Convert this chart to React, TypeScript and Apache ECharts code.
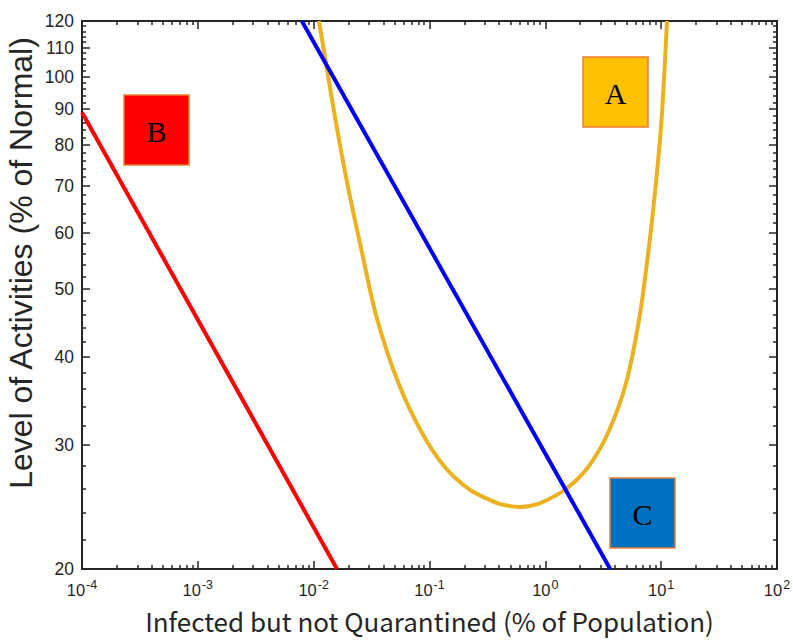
import React, { useEffect, useRef } from "react";
import * as echarts from "echarts";

// ---- data (log-log plot) ----
const redX = [1e-4, 0.0159];
const redY = [89, 20];

const blueX = [0.0079, 3.63];
const blueY = [120, 20];

const yellowX = [0.0111, 0.01265, 0.01544, 0.01979, 0.02588, 0.03487, 0.054, 0.0862, 0.1361, 0.2237, 0.333, 0.4063, 0.5925, 0.7374, 0.955, 1.508, 2.336, 3.476, 4.973, 6.504, 7.778, 8.936, 10.07, 11.23];
const yellowY = [120, 105.6, 86.8, 69.7, 56.7, 45.6, 36.7, 31.2, 27.9, 25.9, 25.06, 24.73, 24.5, 24.57, 24.9, 25.98, 27.9, 31.2, 36.7, 45.6, 56.7, 69.7, 86.8, 120];

const xDecades = [-4, -3, -2, -1, 0, 1, 2];
const yTickLabels = [20, 30, 40, 50, 60, 70, 80, 90, 100, 110, 120];
const yMinorValues = [22, 24, 26, 28, 32, 34, 36, 38, 42, 44, 46, 48, 52, 54, 56, 58, 62, 64, 66, 68, 72, 74, 76, 78, 82, 84, 86, 88, 92, 94, 96, 98, 102, 104, 106, 108, 112, 114, 116, 118];
const xMinorMultipliers = [2, 3, 4, 5, 6, 7, 8, 9];

const annotations = [
  { label: "A", fill: "#FFC000" },
  { label: "B", fill: "#FF0000" },
  { label: "C", fill: "#0070C0" },
];

const lg = (v: number) => Math.log10(v);
const pairs = (xs: number[], ys: number[]) => xs.map((x, i) => [lg(x), lg(ys[i])]);

const AX = "#262626";

export default function App() {
  const ref = useRef<HTMLDivElement>(null);
  useEffect(() => {
    if (!ref.current) return;
    const chart = echarts.init(ref.current, undefined, { renderer: "svg" });

    const xMin = xDecades[0];
    const xMax = xDecades[xDecades.length - 1];
    const yMin = lg(yTickLabels[0]);
    const yMax = lg(yTickLabels[yTickLabels.length - 1]);
    const xMinor: number[] = [];
    for (let d = xMin; d < xMax; d++) {
      xMinorMultipliers.forEach((m) => xMinor.push(lg(m * Math.pow(10, d))));
    }
    const yMajor = yTickLabels.map(lg);
    const yMinor = yMinorValues.map(lg);

    const baseX = (pos: "bottom" | "top", ticks: number[], len: number, showLine: boolean, labels: boolean) => ({
      type: "value",
      position: pos,
      min: xMin,
      max: xMax,
      splitLine: { show: false },
      axisLine: { show: showLine, onZero: false, lineStyle: { color: AX, width: 2 } },
      axisTick: { show: true, inside: true, length: len, customValues: ticks, lineStyle: { color: AX, width: 1.5 } },
      axisLabel: labels
        ? {
            show: true,
            customValues: xDecades,
            margin: 9,
            hideOverlap: false,
            formatter: (v: number) => `{b|10}{s|${Math.round(v)}}`,
            rich: {
              b: { fontSize: 16.5, fontFamily: "Liberation Sans", color: AX, verticalAlign: "bottom" },
              s: { fontSize: 12.5, fontFamily: "Liberation Sans", color: AX, verticalAlign: "bottom", padding: [0, 0, 7, 1] },
            },
          }
        : { show: false },
    });

    const baseY = (pos: "left" | "right", ticks: number[], len: number, showLine: boolean, labels: boolean) => ({
      type: "value",
      position: pos,
      min: yMin,
      max: yMax,
      splitLine: { show: false },
      axisLine: { show: showLine, onZero: false, lineStyle: { color: AX, width: 2 } },
      axisTick: { show: true, inside: true, length: len, customValues: ticks, lineStyle: { color: AX, width: 1.5 } },
      axisLabel: labels
        ? {
            show: true,
            customValues: yMajor,
            margin: 8,
            fontSize: 17.5,
            fontFamily: "Liberation Sans",
            color: AX,
            formatter: (v: number) => String(Math.round(Math.pow(10, v))),
          }
        : { show: false },
    });

    const xAxes: any[] = [
      {
        ...baseX("bottom", xDecades, 8, true, true),
        name: "Infected but not Quarantined (% of Population)",
        nameLocation: "middle",
        nameGap: 37,
        nameMoveOverlap: false,
        nameTextStyle: { fontSize: 26, lineHeight: 28, fontFamily: "Noto Sans CJK JP", color: AX },
      },
      baseX("bottom", xMinor, 4, false, false),
      baseX("top", xDecades, 8, true, false),
      baseX("top", xMinor, 4, false, false),
    ];
    const yAxes: any[] = [
      {
        ...baseY("left", yMajor, 8, true, true),
        name: "Level of Activities (% of Normal)",
        nameLocation: "middle",
        nameGap: 45,
        nameMoveOverlap: false,
        nameTextStyle: { fontSize: 32, fontFamily: "Liberation Sans", color: AX, padding: [0, 0, 0, 64] },
      },
      baseY("left", yMinor, 4, false, false),
      baseY("right", yMajor, 8, true, false),
      baseY("right", yMinor, 4, false, false),
    ];

    const boxPos = [
      { x: 583, y: 57 },
      { x: 124, y: 95 },
      { x: 610, y: 478 },
    ];
    const boxW = 65;
    const boxH = 70;

    const graphics: any[] = [];
    annotations.forEach((a, i) => {
      graphics.push({
        type: "rect",
        x: boxPos[i].x,
        y: boxPos[i].y,
        shape: { width: boxW, height: boxH },
        style: { fill: a.fill, stroke: "#ED7D31", lineWidth: 1.5 },
        z: 10,
      });
      graphics.push({
        type: "text",
        x: boxPos[i].x + boxW / 2,
        y: boxPos[i].y + boxH / 2 + 1,
        style: {
          text: a.label,
          fontSize: 30,
          fontFamily: "Liberation Serif",
          fill: "#000",
          textAlign: "center",
          textVerticalAlign: "middle",
        },
        z: 11,
      });
    });

    chart.setOption({
      animation: false,
      backgroundColor: "#ffffff",
      grid: { left: 82, right: 16, top: 21, bottom: 71, containLabel: false, outerBoundsMode: "none" },
      xAxis: xAxes,
      yAxis: yAxes,
      series: [
        {
          name: "A",
          type: "line",
          data: pairs(yellowX, yellowY),
          showSymbol: false,
          smooth: 0.3,
          lineStyle: { color: "#EDB120", width: 4 },
          itemStyle: { color: "#EDB120" },
          z: 2,
        },
        {
          name: "B",
          type: "line",
          data: pairs(redX, redY),
          showSymbol: false,
          lineStyle: { color: "#FF0000", width: 4 },
          itemStyle: { color: "#FF0000" },
          z: 3,
        },
        {
          name: "C",
          type: "line",
          data: pairs(blueX, blueY),
          showSymbol: false,
          lineStyle: { color: "#0000FF", width: 4 },
          itemStyle: { color: "#0000FF" },
          z: 3,
        },
      ],
      graphic: graphics,
    });

    return () => chart.dispose();
  }, []);

  return <div ref={ref} style={{ position: "fixed", left: 0, top: 0, width: 793, height: 640 }} />;
}
